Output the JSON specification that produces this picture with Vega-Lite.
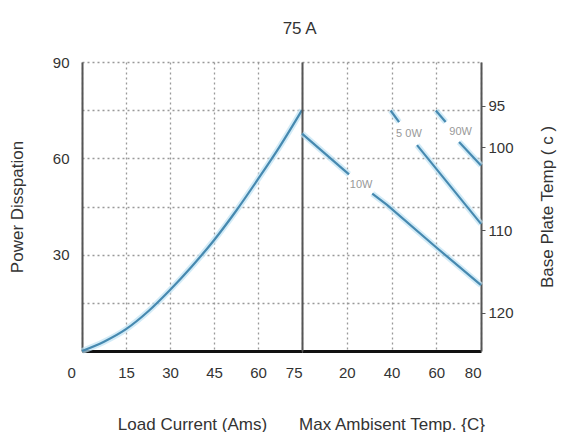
{
  "$schema": "https://vega.github.io/schema/vega-lite/v6.json",
  "padding": {"left": 8, "top": 20, "right": 5, "bottom": 0},
  "background": "white",
  "bounds": "flush",
  "title": {"text": "75 A", "anchor": "middle", "dx": 18, "offset": 17, "fontSize": 17, "font": "Liberation Sans", "fontWeight": "normal", "color": "#333"},
  "spacing": 0,
  "config": {
    "view": {"stroke": null},
    "font": "Liberation Sans",
    "axis": {
      "labelFont": "Liberation Sans", "labelFontSize": 15, "labelColor": "#333",
      "titleFont": "Liberation Sans", "titleFontSize": 17, "titleFontWeight": "normal", "titleColor": "#333",
      "gridColor": "#999", "gridDash": [2, 3], "gridWidth": 1.3
    }
  },
  "datasets": {
    "curve": [
      {"current": 0, "power": 0},
      {"current": 7.5, "power": 2.9},
      {"current": 15, "power": 6.8},
      {"current": 22.5, "power": 12.3},
      {"current": 30, "power": 19.0},
      {"current": 37.5, "power": 26.4},
      {"current": 45, "power": 34.5},
      {"current": 52.5, "power": 43.6},
      {"current": 60, "power": 53.5},
      {"current": 67.5, "power": 63.8},
      {"current": 75, "power": 75}
    ],
    "derating": [
      {"segment": "10W-a", "temp": 0, "power": 67.7},
      {"segment": "10W-a", "temp": 21, "power": 55.0},
      {"segment": "10W-b", "temp": 31.4, "power": 49.0},
      {"segment": "10W-b", "temp": 38, "power": 45.5},
      {"segment": "10W-b", "temp": 59.8, "power": 32.4},
      {"segment": "10W-b", "temp": 80, "power": 20.5},
      {"segment": "50W-a", "temp": 39.6, "power": 74.9},
      {"segment": "50W-a", "temp": 43.4, "power": 71.3},
      {"segment": "50W-b", "temp": 51.4, "power": 64.1},
      {"segment": "50W-b", "temp": 80, "power": 39.6},
      {"segment": "90W-a", "temp": 59.8, "power": 74.9},
      {"segment": "90W-a", "temp": 64.2, "power": 71.3},
      {"segment": "90W-b", "temp": 70.2, "power": 65.1},
      {"segment": "90W-b", "temp": 80, "power": 57.8}
    ],
    "line_labels": [
      {"label": "10W", "temp": 26.4, "power": 51.7},
      {"label": "5 0W", "temp": 47.8, "power": 67.7},
      {"label": "90W", "temp": 70.9, "power": 68.2}
    ],
    "temp_ticks": [
      {"temp": 95}, {"temp": 100}, {"temp": 110}, {"temp": 120}
    ]
  },
  "hconcat": [
    {
      "width": 220,
      "height": 289,
      "data": {"name": "curve"},
      "layer": [
        {
          "mark": {"type": "line", "interpolate": "monotone", "color": "#bfe3f3", "strokeWidth": 6, "opacity": 0.7},
          "encoding": {
            "x": {"field": "current", "type": "quantitative"},
            "y": {"field": "power", "type": "quantitative"}
          }
        },
        {
          "mark": {"type": "line", "interpolate": "monotone", "color": "#4689b0", "strokeWidth": 2.2},
          "encoding": {
            "x": {
              "field": "current", "type": "quantitative",
              "scale": {"domain": [0, 75], "nice": false},
              "axis": {
                "values": [0, 15, 30, 45, 60, 75], "title": "Load Current (Ams)", "titlePadding": 36,
                "ticks": false, "labelPadding": 14, "domainColor": "#111", "domainWidth": 3, "grid": true,
                "labelOffset": {"condition": {"test": "datum.value === 0", "value": -15}, "value": 0}
              }
            },
            "y": {
              "field": "power", "type": "quantitative",
              "scale": {"domain": [0, 90], "nice": false},
              "axis": {
                "values": [15, 30, 45, 60, 75, 90], "labelExpr": "datum.value % 30 === 0 ? datum.label : ''",
                "title": "Power Disspation", "titlePadding": 26, "ticks": false, "labelPadding": 13,
                "domainColor": "#555", "domainWidth": 2, "grid": true
              }
            }
          }
        }
      ]
    },
    {
      "width": 179,
      "height": 289,
      "layer": [
        {
          "layer": [
            {
              "data": {"name": "derating"},
              "mark": {"type": "line", "color": "#bfe3f3", "strokeWidth": 6, "opacity": 0.7},
              "encoding": {
                "x": {"field": "temp", "type": "quantitative"},
                "y": {"field": "power", "type": "quantitative"},
                "detail": {"field": "segment"}
              }
            },
            {
              "data": {"name": "derating"},
              "mark": {"type": "line", "color": "#4689b0", "strokeWidth": 2.2},
              "encoding": {
                "x": {
                  "field": "temp", "type": "quantitative",
                  "scale": {"domain": [0, 80], "nice": false},
                  "axis": {
                    "values": [20, 40, 60, 80], "title": "Max Ambisent Temp. {C}", "titlePadding": 36,
                    "ticks": false, "labelPadding": 14, "domainColor": "#111", "domainWidth": 3, "grid": true
                  }
                },
                "y": {
                  "field": "power", "type": "quantitative",
                  "scale": {"domain": [0, 90], "nice": false},
                  "axis": {
                    "orient": "left", "values": [15, 30, 45, 60, 75, 90], "labels": false, "ticks": false,
                    "title": null, "domainColor": "#555", "domainWidth": 2, "grid": true
                  }
                },
                "detail": {"field": "segment"}
              }
            },
            {
              "data": {"name": "line_labels"},
              "mark": {"type": "text", "fontSize": 11, "color": "#999", "font": "Liberation Sans"},
              "encoding": {
                "x": {"field": "temp", "type": "quantitative"},
                "y": {"field": "power", "type": "quantitative"},
                "text": {"field": "label"}
              }
            }
          ]
        },
        {
          "data": {"name": "temp_ticks"},
          "mark": {"type": "point", "opacity": 0},
          "encoding": {
            "y": {
              "field": "temp", "type": "quantitative",
              "scale": {"domain": [89.7, 124.6], "reverse": true, "nice": false, "zero": false},
              "axis": {
                "orient": "right", "values": [95, 100, 110, 120], "title": "Base Plate Temp ( c )",
                "titleAngle": 270, "titlePadding": 43, "tickSize": 4, "tickColor": "#555", "labelPadding": 3,
                "domainColor": "#555", "domainWidth": 2, "grid": false
              }
            }
          }
        }
      ],
      "resolve": {"scale": {"y": "independent"}}
    }
  ]
}
